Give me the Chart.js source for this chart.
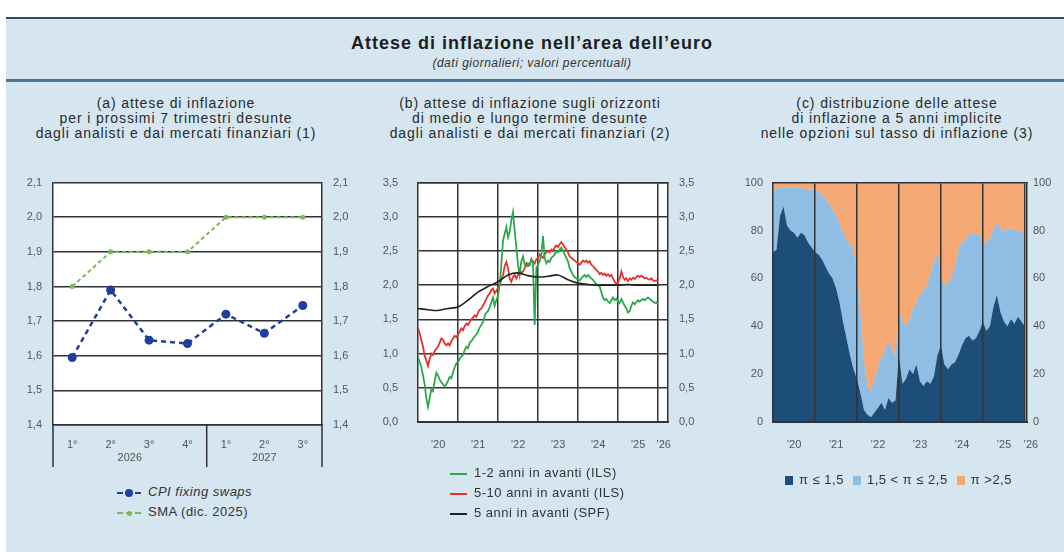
<!DOCTYPE html>
<html lang="it">
<head>
<meta charset="UTF-8">
<title>Attese di inflazione nell'area dell'euro</title>
<script src="https://cdn.jsdelivr.net/npm/chart.js"></script>
<style>
  body { margin: 0; background: #fff; font-family: "Liberation Sans", Arial, sans-serif; }
  #page { position: relative; width: 1064px; height: 552px; overflow: hidden; background: #fff; }
  .bg { position: absolute; left: 6px; top: 19px; width: 1058px; height: 533px; background: #d5e6f0; }
  .rule-top { position: absolute; left: 6px; top: 17px; width: 1058px; height: 2px; background: #2e4d63; }
  .rule-mid { position: absolute; left: 6px; top: 79px; width: 1058px; height: 3px; background: #4f7690; }
  .plotbg { position: absolute; background: #fff; }
  canvas { position: absolute; }
  .title { position: absolute; left: 132px; width: 800px; text-align: center; color: #1e1e1e; }
  .ptitle { position: absolute; width: 360px; text-align: center; font-size: 14px; line-height: 15px;
            letter-spacing: 0.9px; color: #2a2a2a; }
  .leg { position: absolute; font-size: 13px; letter-spacing: 0.5px; color: #333; white-space: nowrap; }
  .leg .row { height: 20px; line-height: 20px; }
  .sym { display: inline-block; vertical-align: middle; position: relative; margin-right: 7px; }
  .sq { display: inline-block; width: 8px; height: 9px; vertical-align: middle; margin: 0 6px 0 9px; }
</style>
</head>
<body>
<div id="page">
  <div class="bg"></div>
  <div class="rule-top"></div>
  <div class="rule-mid"></div>
  <div class="plotbg" id="bgA"></div>
  <div class="plotbg" id="bgB"></div>
  <canvas id="chartA" width="370" height="310" style="left:0;top:165px;"></canvas>
  <canvas id="chartB" width="340" height="320" style="left:360px;top:156px;"></canvas>
  <canvas id="chartC" width="364" height="309" style="left:700px;top:166px;"></canvas>

  <div class="title" style="top:33px;font-size:18px;font-weight:bold;letter-spacing:1px;">Attese di inflazione nell’area dell’euro</div>
  <div class="title" style="top:56px;font-size:12px;font-style:italic;letter-spacing:0.5px;color:#333;">(dati giornalieri; valori percentuali)</div>

  <div class="ptitle" style="left:-4px;top:96px;">(a) attese di inflazione<br>per i prossimi 7 trimestri desunte<br>dagli analisti e dai mercati finanziari (1)</div>
  <div class="ptitle" style="left:350px;top:96px;">(b) attese di inflazione sugli orizzonti<br>di medio e lungo termine desunte<br>dagli analisti e dai mercati finanziari (2)</div>
  <div class="ptitle" style="left:717px;top:96px;">(c) distribuzione delle attese<br>di inflazione a 5 anni implicite<br>nelle opzioni sul tasso di inflazione (3)</div>

  <div class="leg" style="left:117px;top:482px;">
    <div class="row"><span class="sym" style="width:24px;height:10px;"><span style="position:absolute;left:0;top:4px;width:24px;border-top:2px dashed #1f3f9a;"></span><span style="position:absolute;left:8px;top:1px;width:8px;height:8px;border-radius:4px;background:#1f3f9a;"></span></span><i>CPI fixing swaps</i></div>
    <div class="row"><span class="sym" style="width:24px;height:10px;"><span style="position:absolute;left:0;top:4px;width:24px;border-top:2px dashed #7ab85a;"></span><span style="position:absolute;left:10px;top:3px;width:5px;height:5px;border-radius:3px;background:#7ab85a;"></span></span>SMA (dic. 2025)</div>
  </div>

  <div class="leg" style="left:450px;top:463px;">
    <div class="row"><span class="sym" style="width:17px;height:2px;background:#2aa84a;"></span>1-2 anni in avanti (ILS)</div>
    <div class="row"><span class="sym" style="width:17px;height:2px;background:#e8312a;"></span>5-10 anni in avanti (ILS)</div>
    <div class="row"><span class="sym" style="width:17px;height:2px;background:#222;"></span>5 anni in avanti (SPF)</div>
  </div>

  <div class="leg" style="left:776px;top:472px;">
    <span class="sq" style="background:#1d4e79;"></span>π ≤ 1,5<span class="sq" style="background:#8fbde3;"></span>1,5 &lt; π ≤ 2,5<span class="sq" style="background:#f5a873;"></span>π &gt;2,5
  </div>
</div>

<script>
// (a) quarterly horizon, 2026 Q1 - 2027 Q3
const quarterLabels = ['1°', '2°', '3°', '4°', '1°', '2°', '3°'];
const yearNames = ['2026', '2027'];
const quartersPerYear = [4, 3];
const cpiFixingSwaps = [1.595, 1.79, 1.645, 1.635, 1.72, 1.665, 1.745];
const smaDic2025 = [1.8, 1.9, 1.9, 1.9, 2.0, 2.0, 2.0];

// (b) semi-monthly readings from Jan 2020 to Jan 2026
const seriesStart = 2020;
const semiMonthStep = 1 / 24;
const ils1to2 = [
  0.94, 0.88, 0.80, 0.68, 0.55, 0.35, 0.22, 0.35, 0.48, 0.45, 0.60, 0.72, 0.68, 0.62, 0.58, 0.55, 0.52, 0.55, 0.60, 0.66, 0.64, 0.72, 0.80, 0.86,
  0.88, 0.92, 0.96, 0.98, 1.05, 1.10, 1.08, 1.16, 1.18, 1.22, 1.25, 1.28, 1.32, 1.38, 1.42, 1.46, 1.55, 1.60, 1.62, 1.68, 1.75, 1.82, 1.70, 1.78,
  1.85, 2.00, 2.30, 2.65, 2.75, 2.85, 2.70, 2.78, 2.95, 3.07, 2.80, 2.55, 2.30, 2.15, 2.35, 2.42, 2.30, 2.28, 2.32, 2.30, 2.38, 2.32, 1.42, 2.25,
  2.30, 2.35, 2.45, 2.72, 2.40, 2.32, 2.36, 2.34, 2.40, 2.42, 2.45, 2.50, 2.48, 2.52, 2.55, 2.50, 2.45, 2.40, 2.35, 2.25, 2.20, 2.15, 2.12, 2.10,
  2.08, 2.07, 2.10, 2.13, 2.15, 2.12, 2.15, 2.12, 2.10, 2.08, 2.04, 2.02, 2.00, 1.98, 1.90, 1.82, 1.78, 1.80, 1.76, 1.74, 1.78, 1.82, 1.78, 1.80,
  1.76, 1.74, 1.80, 1.75, 1.70, 1.66, 1.60, 1.62, 1.70, 1.75, 1.72, 1.75, 1.78, 1.76, 1.78, 1.80, 1.78, 1.80, 1.82, 1.80, 1.78, 1.76, 1.74, 1.75,
  1.72
];
const ils5to10 = [
  1.37, 1.30, 1.20, 1.10, 0.97, 0.90, 0.82, 0.92, 1.00, 0.98, 1.04, 1.07, 1.10, 1.16, 1.22, 1.20, 1.15, 1.12, 1.15, 1.12, 1.18, 1.22, 1.26, 1.24,
  1.28, 1.32, 1.37, 1.34, 1.40, 1.44, 1.42, 1.46, 1.50, 1.53, 1.56, 1.54, 1.60, 1.64, 1.66, 1.70, 1.75, 1.80, 1.85, 1.88, 1.93, 1.95, 1.88, 1.92,
  1.96, 2.00, 2.08, 2.15, 2.28, 2.34, 2.25, 2.10, 2.05, 2.12, 2.15, 2.10, 2.15, 2.22, 2.18, 2.20, 2.25, 2.32, 2.28, 2.30, 2.38, 2.35, 2.32, 2.38,
  2.40, 2.45, 2.42, 2.40, 2.45, 2.48, 2.50, 2.48, 2.52, 2.50, 2.55, 2.58, 2.56, 2.60, 2.63, 2.60, 2.55, 2.52, 2.48, 2.42, 2.40, 2.38, 2.36, 2.34,
  2.32, 2.30, 2.33, 2.36, 2.34, 2.36, 2.33, 2.35, 2.30, 2.28, 2.25, 2.22, 2.20, 2.16, 2.18, 2.15, 2.17, 2.14, 2.16, 2.13, 2.15, 2.10, 2.05, 2.02,
  2.04, 2.10, 2.20, 2.12, 2.08, 2.10, 2.06, 2.10, 2.08, 2.11, 2.09, 2.12, 2.14, 2.12, 2.14, 2.12, 2.10, 2.11, 2.09, 2.08, 2.10, 2.07, 2.06, 2.07,
  2.06
];
// SPF, quarterly
const quarterStep = 1 / 4;
const spf5y = [1.66, 1.64, 1.63, 1.66, 1.68, 1.78, 1.90, 1.98, 2.05, 2.15, 2.18, 2.14, 2.12, 2.13, 2.15, 2.08,
               2.03, 2.01, 2.00, 2.00, 2.00, 2.01, 2.00, 2.00, 2.00];

// (c) monthly, cumulative probabilities (%)
const monthStep = 1 / 12;
const probLe15 = [
  71, 72, 86, 90, 82, 80, 79, 77, 79, 78, 75, 73,
  71, 70, 68, 65, 62, 60, 56, 50, 42, 35, 28, 22,
  18, 12, 5, 3, 2, 4, 6, 8, 5, 10, 8, 9,
  28, 16, 18, 22, 20, 24, 17, 15, 17, 16, 19, 28,
  32, 24, 22, 24, 25, 28, 32, 35, 36, 34, 35, 38,
  42, 38, 40, 48, 53, 46, 42, 40, 43, 41, 44, 42,
  40
];
const probLe25 = [
  97, 97, 98, 98, 98, 98, 98, 98, 98, 97, 97, 97,
  97, 96, 95, 93, 91, 89, 86, 83, 79, 76, 74, 72,
  62, 45, 25, 15, 13, 18, 22, 27, 30, 34, 30, 28,
  46, 42, 40, 43, 47, 50, 53, 55, 57, 62, 67, 71,
  60, 57, 58, 60, 65, 72, 75, 76, 78, 79, 79, 78,
  74, 75, 77, 80, 83, 81, 80, 80, 81, 80, 80, 79,
  79
];

// axis ticks for the daily panels
const yearBreaks = [2021, 2022, 2023, 2024, 2025, 2026];
const yearLabelPos = [2020.5, 2021.5, 2022.5, 2023.5, 2024.5, 2025.5, 2026.14];
const yearLabels = ['’20', '’21', '’22', '’23', '’24', '’25', '’26'];

const tickFont = { family: 'Liberation Sans', size: 11 };
const tickColor = '#555';
const gridColor = '#333';
const comma1 = v => v.toFixed(1).replace('.', ',');

function toPoints(values, step) {
  return values.map((v, i) => ({ x: seriesStart + i * step, y: v }));
}

function yAxis(pos, min, max, step, width, pad, fmt, showGrid, onTop) {
  return {
    type: 'linear', position: pos, min: min, max: max,
    afterFit: s => { s.width = width; },
    ticks: { stepSize: step, padding: pad, color: tickColor, font: tickFont, callback: v => fmt(v) },
    grid: { display: showGrid, drawTicks: false, color: gridColor, lineWidth: 1.5 },
    border: { display: true, color: gridColor, width: 1.5, z: onTop ? 1 : 0 }
  };
}

function yearAxes(max, bottomHeight, pad, onTop) {
  return {
    x: {
      type: 'linear', position: 'bottom', min: 2020, max: max,
      afterBuildTicks: s => { s.ticks = yearLabelPos.map(v => ({ value: v })); },
      afterFit: s => { s.height = bottomHeight; },
      ticks: { padding: pad, color: tickColor, font: tickFont, autoSkip: false, maxRotation: 0,
               callback: (v, i) => yearLabels[i] },
      grid: { display: false },
      border: { display: true, color: gridColor, width: 2, z: onTop ? 1 : 0 }
    },
    xg: {
      type: 'linear', position: 'top', min: 2020, max: max,
      afterBuildTicks: s => { s.ticks = yearBreaks.map(v => ({ value: v })); },
      afterFit: s => { s.height = 0; },
      ticks: { display: false },
      grid: { drawTicks: false, color: gridColor, lineWidth: 1.5, z: onTop ? 1 : -1 },
      border: { display: true, color: gridColor, width: 1.5, z: onTop ? 1 : 0 }
    }
  };
}

// white plot area sits behind the transparent canvas
function placePlotBg(chart, id) {
  const c = chart.canvas, a = chart.chartArea, el = document.getElementById(id);
  el.style.left = (c.offsetLeft + a.left) + 'px';
  el.style.top = (c.offsetTop + a.top) + 'px';
  el.style.width = (a.right - a.left) + 'px';
  el.style.height = (a.bottom - a.top) + 'px';
}

// year captions and separators under panel (a)
const yearGroups = {
  id: 'yearGroups',
  afterDraw(chart) {
    const { ctx, chartArea: a, scales: { x } } = chart;
    ctx.save();
    ctx.strokeStyle = gridColor;
    ctx.lineWidth = 1.5;
    ctx.fillStyle = tickColor;
    ctx.font = '11px "Liberation Sans"';
    ctx.textAlign = 'center';
    ctx.textBaseline = 'middle';
    const cuts = [a.left];
    let start = 0;
    yearNames.forEach((name, k) => {
      const end = start + quartersPerYear[k] - 1;
      ctx.fillText(name, (x.getPixelForValue(start) + x.getPixelForValue(end)) / 2, a.bottom + 33);
      start = end + 1;
      if (start < quarterLabels.length) cuts.push((x.getPixelForValue(end) + x.getPixelForValue(start)) / 2);
    });
    cuts.push(a.right);
    cuts.forEach(px => {
      ctx.beginPath();
      ctx.moveTo(px, a.bottom);
      ctx.lineTo(px, a.bottom + 42);
      ctx.stroke();
    });
    ctx.restore();
  }
};

const base = {
  responsive: false,
  animation: false,
  devicePixelRatio: 1,
  layout: { padding: 0 },
  plugins: { legend: { display: false }, tooltip: { enabled: false } }
};

const chartA = new Chart(document.getElementById('chartA'), {
  type: 'line',
  data: {
    labels: quarterLabels,
    datasets: [
      { label: 'CPI fixing swaps', data: cpiFixingSwaps, borderColor: '#1f3f9a', backgroundColor: '#1f3f9a',
        borderWidth: 2.5, borderDash: [5, 4], pointRadius: 4.5, pointBorderWidth: 0 },
      { label: 'SMA (dic. 2025)', data: smaDic2025, borderColor: '#7ab85a', backgroundColor: '#7ab85a',
        borderWidth: 2, borderDash: [4, 3], pointRadius: 2.5, pointBorderWidth: 0 }
    ]
  },
  options: Object.assign({}, base, {
    scales: {
      x: {
        type: 'category', offset: true,
        afterFit: s => { s.height = 50; },
        ticks: { padding: 5, color: tickColor, font: tickFont },
        grid: { display: false },
        border: { display: true, color: gridColor, width: 1.5 }
      },
      y: yAxis('left', 1.4, 2.1, 0.1, 53, 11, comma1, true),
      y2: yAxis('right', 1.4, 2.1, 0.1, 48, 11, comma1, false)
    }
  }),
  plugins: [yearGroups]
});
placePlotBg(chartA, 'bgA');

const chartB = new Chart(document.getElementById('chartB'), {
  type: 'line',
  data: {
    datasets: [
      { label: '5 anni in avanti (SPF)', data: toPoints(spf5y, quarterStep), borderColor: '#222',
        borderWidth: 1.6, pointRadius: 0, tension: 0.3 },
      { label: '1-2 anni in avanti (ILS)', data: toPoints(ils1to2, semiMonthStep), borderColor: '#2aa84a',
        borderWidth: 1.8, pointRadius: 0 },
      { label: '5-10 anni in avanti (ILS)', data: toPoints(ils5to10, semiMonthStep), borderColor: '#e8312a',
        borderWidth: 1.8, pointRadius: 0 }
    ]
  },
  options: Object.assign({}, base, {
    scales: Object.assign(yearAxes(2026.25, 54, 8, false), {
      y: yAxis('left', 0, 3.5, 0.5, 58, 20, comma1, true),
      y2: yAxis('right', 0, 3.5, 0.5, 32, 11, comma1, false)
    })
  })
});
placePlotBg(chartB, 'bgB');

new Chart(document.getElementById('chartC'), {
  type: 'line',
  data: {
    datasets: [
      { label: 'π ≤ 1,5', data: toPoints(probLe15, monthStep), borderWidth: 0, pointRadius: 0,
        fill: 'origin', backgroundColor: '#1d4e79' },
      { label: '1,5 < π ≤ 2,5', data: toPoints(probLe25, monthStep), borderWidth: 0, pointRadius: 0,
        fill: '-1', backgroundColor: '#8fbde3' },
      { label: 'π >2,5', data: toPoints(probLe25, monthStep), borderWidth: 0, pointRadius: 0,
        fill: 'end', backgroundColor: '#f5a873' }
    ]
  },
  options: Object.assign({}, base, {
    scales: Object.assign(yearAxes(2026.05, 53, 8, true), {
      y: yAxis('left', 0, 100, 20, 73, 10, v => String(v), false, true),
      y2: yAxis('right', 0, 100, 20, 37, 6, v => String(v), false, true)
    })
  })
});
</script>
</body>
</html>
